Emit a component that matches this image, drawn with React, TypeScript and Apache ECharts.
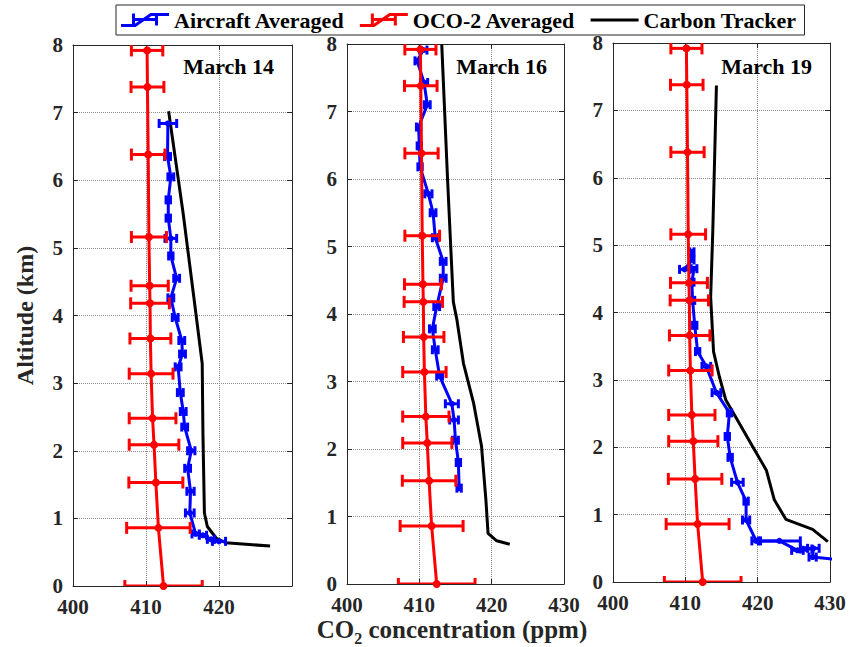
import React, { useEffect, useRef } from 'react';
import * as echarts from 'echarts';

const FONT = "'Liberation Serif', 'Times New Roman', Times, serif";
const AXIS_COLOR = '#262626';

const SERIES_NAMES = ['Aircraft Averaged', 'OCO-2 Averaged', 'Carbon Tracker'];
const PANEL_TITLES = ['March 14', 'March 16', 'March 19'];
const X_MIN = 400;
const X_MAX = 430;
const X_STEP = 10;
const Y_MIN = 0;
const Y_MAX = 8;
const Y_STEP = 1;

// OCO-2 averaged profile (same in all three panels)
const OCO_ALT = [7.92, 7.38, 6.38, 5.16, 4.44, 4.18, 3.66, 3.14, 2.48, 2.09, 1.53, 0.86, 0.0];
const OCO_CO2 = [410.15, 410.2, 410.3, 410.4, 410.5, 410.55, 410.6, 410.7, 410.9, 411.1, 411.35, 411.7, 412.4];
const OCO_ERR = [2.15, 2.25, 2.3, 2.4, 2.55, 2.65, 2.8, 3.0, 3.2, 3.4, 3.7, 4.35, 5.3];

// Aircraft averaged – March 14
const AIR14_ALT = [6.84, 6.35, 6.05, 5.71, 5.44, 5.14, 4.88, 4.55, 4.26, 3.97, 3.63, 3.43, 3.24, 2.86, 2.58, 2.35, 2.0, 1.74, 1.4, 1.08, 0.77, 0.75, 0.69, 0.66];
const AIR14_CO2 = [413.0, 412.95, 413.4, 413.05, 413.05, 413.4, 413.4, 414.2, 413.4, 414.0, 414.9, 415.0, 414.4, 414.7, 415.1, 415.3, 416.2, 415.7, 416.1, 416.0, 416.8, 417.8, 418.9, 420.0];
const AIR14_ERR = [1.2, 0.4, 0.4, 0.3, 0.3, 0.8, 0.3, 0.4, 0.4, 0.4, 0.4, 0.4, 0.4, 0.4, 0.4, 0.4, 0.5, 0.4, 0.5, 0.6, 0.5, 0.5, 0.5, 0.9];

// Aircraft averaged – March 16
const AIR16_ALT = [7.91, 7.75, 7.43, 7.1, 6.77, 6.49, 6.18, 5.78, 5.5, 5.13, 4.78, 4.53, 4.11, 3.78, 3.47, 3.08, 2.67, 2.43, 2.13, 1.8, 1.42];
const AIR16_CO2 = [410.55, 409.7, 410.65, 411.1, 409.9, 410.0, 410.1, 411.25, 411.9, 412.2, 413.3, 413.3, 412.4, 411.8, 412.2, 412.8, 414.5, 414.8, 415.0, 415.4, 415.5];
const AIR16_ERR = [0.5, 0.3, 0.5, 0.4, 0.3, 0.3, 0.3, 0.5, 0.4, 0.4, 0.4, 0.4, 0.4, 0.4, 0.4, 0.4, 0.9, 0.6, 0.4, 0.3, 0.3];

// Aircraft averaged – March 19
const AIR19_ALT = [4.9, 4.78, 4.64, 4.65, 4.45, 4.18, 3.81, 3.42, 3.2, 2.81, 2.51, 2.16, 1.85, 1.48, 1.2, 0.92, 0.61, 0.61, 0.47, 0.49, 0.5, 0.37, 0.33];
const AIR19_CO2 = [410.9, 410.9, 409.9, 411.2, 410.9, 411.0, 411.3, 411.7, 412.9, 414.3, 416.1, 415.8, 416.2, 417.2, 418.4, 418.4, 419.8, 423.0, 425.5, 426.7, 427.7, 427.6, 431.5];
const AIR19_ERR = [0.3, 0.3, 0.7, 0.4, 0.3, 0.3, 0.3, 0.3, 0.6, 0.6, 0.3, 0.3, 0.3, 0.8, 0.3, 0.5, 0.6, 2.9, 0.8, 0.8, 0.8, 0.5, 0.0];

// Carbon Tracker
const CT14_ALT = [7.02, 5.5, 4.23, 3.29, 2.26, 1.08, 0.88, 0.71, 0.64, 0.59];
const CT14_CO2 = [413.1, 415.1, 416.6, 417.7, 417.8, 418.0, 418.4, 419.6, 420.9, 427.0];
const CT16_ALT = [7.99, 6.0, 4.18, 3.91, 3.27, 2.68, 2.04, 1.25, 0.75, 0.64, 0.59];
const CT16_CO2 = [413.1, 413.9, 414.7, 415.2, 416.1, 417.5, 418.6, 419.2, 419.5, 420.7, 422.5];
const CT19_ALT = [7.37, 5.22, 4.23, 3.42, 3.05, 2.7, 2.48, 2.01, 1.66, 1.22, 0.93, 0.78, 0.6];
const CT19_CO2 = [414.3, 413.8, 413.5, 413.9, 414.7, 415.6, 416.8, 419.3, 421.2, 422.3, 423.9, 427.6, 429.7];

const PANELS = [
  { air: [AIR14_CO2, AIR14_ALT, AIR14_ERR], ct: [CT14_CO2, CT14_ALT] },
  { air: [AIR16_CO2, AIR16_ALT, AIR16_ERR], ct: [CT16_CO2, CT16_ALT] },
  { air: [AIR19_CO2, AIR19_ALT, AIR19_ERR], ct: [CT19_CO2, CT19_ALT] },
];

const GRIDS = [
  { left: 73, top: 45, width: 219, height: 541 },
  { left: 347, top: 44, width: 217, height: 540 },
  { left: 613, top: 43, width: 217, height: 539 },
];

const ERR_ICON =
  'path://M0,13.5 L13.5,13.5 L29.5,2.5 L48,2.5 L48,5.5 L30.5,5.5 L14.5,16.5 L0,16.5 Z ' +
  'M12,7.5 L36,7.5 L36,10.5 L12,10.5 Z M11,3 L14,3 L14,15 L11,15 Z M34,3 L37,3 L37,15 L34,15 Z';
const LINE_ICON = 'path://M0,0 L48,0 L48,3 L0,3 Z';

function errorBars(name: string, color: string, xs: number[], ys: number[], es: number[], idx: number, cap: number, z: number) {
  return {
    type: 'custom',
    name,
    xAxisIndex: idx * 2,
    yAxisIndex: idx * 2,
    itemStyle: { color },
    dimensions: ['x', 'y', 'err'],
    encode: { x: 0, y: 1 },
    data: xs.map((x, i) => [x, ys[i], es[i]]),
    clip: true,
    z,
    renderItem: (params: any, api: any) => {
      const x = api.value(0);
      const y = api.value(1);
      const e = api.value(2);
      if (!e) return { type: 'group', children: [] };
      const a = api.coord([x - e, y]);
      const b = api.coord([x + e, y]);
      const st = { stroke: color, lineWidth: 3 };
      return {
        type: 'group',
        children: [
          { type: 'line', shape: { x1: a[0], y1: a[1], x2: b[0], y2: b[1] }, style: st },
          { type: 'line', shape: { x1: a[0], y1: a[1] - cap, x2: a[0], y2: a[1] + cap }, style: st },
          { type: 'line', shape: { x1: b[0], y1: b[1] - cap, x2: b[0], y2: b[1] + cap }, style: st },
        ],
      };
    },
  };
}

function buildOption() {
  const xAxis: any[] = [];
  const yAxis: any[] = [];
  const series: any[] = [];
  const line = { lineStyle: { color: AXIS_COLOR, width: 1 }, onZero: false };
  const tick = { inside: true, length: 5, lineStyle: { color: AXIS_COLOR, width: 1 } };
  const split = { show: true, lineStyle: { type: 'dotted', color: '#8a8a8a', width: 1 } };
  const lab = { fontFamily: FONT, fontSize: 21, fontWeight: 'bold', color: AXIS_COLOR };

  GRIDS.forEach((g, i) => {
    xAxis.push({
      gridIndex: i, type: 'value', position: 'bottom', min: X_MIN, max: X_MAX, interval: X_STEP,
      axisLine: line, axisTick: tick, splitLine: split,
      axisLabel: { ...lab, margin: 10, lineHeight: 21, formatter: (v: number) => (i === 0 && v === X_MAX ? '' : String(v)) },
    });
    xAxis.push({
      gridIndex: i, type: 'value', position: 'top', min: X_MIN, max: X_MAX, interval: X_STEP,
      axisLine: line, axisTick: tick, splitLine: { show: false }, axisLabel: { show: false },
    });
    yAxis.push({
      gridIndex: i, type: 'value', position: 'left', min: Y_MIN, max: Y_MAX, interval: Y_STEP,
      axisLine: line, axisTick: tick, splitLine: split,
      axisLabel: { ...lab, margin: 10 },
      ...(i === 0
        ? {
            name: 'Altitude (km)', nameLocation: 'middle', nameGap: 36, nameRotate: 90,
            nameTextStyle: { fontFamily: FONT, fontSize: 24, fontWeight: 'bold', color: AXIS_COLOR },
          }
        : {}),
    });
    yAxis.push({
      gridIndex: i, type: 'value', position: 'right', min: Y_MIN, max: Y_MAX, interval: Y_STEP,
      axisLine: line, axisTick: tick, splitLine: { show: false }, axisLabel: { show: false },
    });

    const p = PANELS[i];
    series.push({
      type: 'line', name: SERIES_NAMES[2], xAxisIndex: i * 2, yAxisIndex: i * 2,
      data: p.ct[0].map((x, k) => [x, p.ct[1][k]]),
      color: '#000000', symbol: 'none', lineStyle: { color: '#000000', width: 3 }, clip: true, z: 2,
    });
    series.push(errorBars(SERIES_NAMES[0], '#0000ff', p.air[0], p.air[1], p.air[2], i, 4.5, 3));
    series.push({
      type: 'line', name: SERIES_NAMES[0], xAxisIndex: i * 2, yAxisIndex: i * 2,
      data: p.air[0].map((x, k) => [x, p.air[1][k]]),
      color: '#0000ff', symbol: 'circle', symbolSize: 6, showSymbol: true,
      itemStyle: { color: '#0000ff' }, lineStyle: { color: '#0000ff', width: 3 }, clip: true, z: 3,
    });
    series.push(errorBars(SERIES_NAMES[1], '#ff0000', OCO_CO2, OCO_ALT, OCO_ERR, i, 6, 4));
    series.push({
      type: 'line', name: SERIES_NAMES[1], xAxisIndex: i * 2, yAxisIndex: i * 2,
      data: OCO_CO2.map((x, k) => [x, OCO_ALT[k]]),
      color: '#ff0000', symbol: 'circle', symbolSize: 8, showSymbol: true,
      itemStyle: { color: '#ff0000' }, lineStyle: { color: '#ff0000', width: 3 }, clip: true, z: 4,
    });
  });

  const titleRight = [576, 303, 38];
  return {
    animation: false,
    backgroundColor: '#ffffff',
    grid: GRIDS.map((g) => ({ ...g, containLabel: false })),
    xAxis,
    yAxis,
    series,
    title: PANEL_TITLES.map((t, i) => ({
      text: t, right: titleRight[i], top: 55, padding: 0,
      textStyle: { fontFamily: FONT, fontSize: 22, fontWeight: 'bold', color: '#000000' },
    })),
    legend: {
      left: 116, top: 5, orient: 'horizontal',
      padding: [4, 8, 4, 5], borderColor: AXIS_COLOR, borderWidth: 1,
      itemWidth: 48, itemHeight: 18, itemGap: 15, selectedMode: false,
      textStyle: { fontFamily: FONT, fontSize: 22, fontWeight: 'bold', color: '#000000' },
      data: [
        { name: SERIES_NAMES[0], icon: ERR_ICON },
        { name: SERIES_NAMES[1], icon: ERR_ICON },
        { name: SERIES_NAMES[2], icon: LINE_ICON },
      ],
    },
    graphic: [
      {
        type: 'text', x: 452, y: 629,
        style: {
          text: '{a|CO}{s|2}{a| concentration (ppm)}',
          align: 'center', verticalAlign: 'middle',
          fill: AXIS_COLOR,
          rich: {
            a: { fontFamily: FONT, fontSize: 25, fontWeight: 'bold', fill: AXIS_COLOR, lineHeight: 24 },
            s: { fontFamily: FONT, fontSize: 16, fontWeight: 'bold', fill: AXIS_COLOR, lineHeight: 12, verticalAlign: 'bottom', padding: [0, 0, -5, 0] },
          },
        },
      },
    ],
  };
}

export default function App() {
  const ref = useRef<HTMLDivElement>(null);
  useEffect(() => {
    if (!ref.current) return;
    const chart = echarts.init(ref.current, null, { renderer: 'svg' });
    chart.setOption(buildOption() as any);
    return () => chart.dispose();
  }, []);
  return <div ref={ref} style={{ position: 'absolute', left: 0, top: 0, width: 850, height: 647 }} />;
}
